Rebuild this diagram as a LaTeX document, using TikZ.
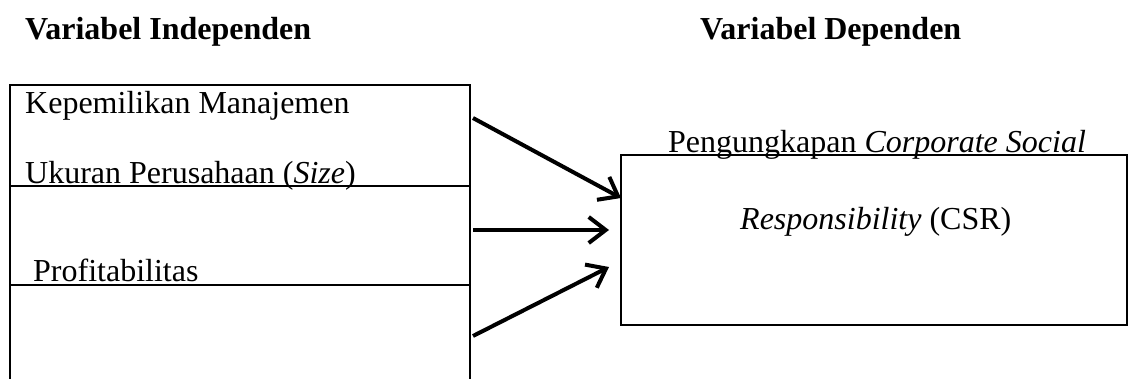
\documentclass[tikz,border=0pt]{standalone}
\usepackage{fontspec}
\setmainfont{Liberation Serif}
\usetikzlibrary{arrows.meta}

\begin{document}
\begin{tikzpicture}[x=1pt,y=-1pt,
  every node/.style={font=\fontsize{32}{38}\selectfont,inner sep=0pt},
  varbox/.style={draw,line width=1.3pt,rectangle},
  label/.style={anchor=base west},
  head/.style={anchor=base west,font=\fontsize{32}{38}\selectfont\bfseries},
  link/.style={line width=4pt,-{Straight Barb[length=17pt,width=26pt]}}]
\useasboundingbox (0,0) rectangle (1133,378);

% headings
\node[head] (indep) at (25,39) {Variabel Independen};
\node[head] (dep) at (700,39) {Variabel Dependen};

% independent variables
\node[varbox,minimum width=460pt,minimum height=101pt] (kep) at (240,135.5) {};
\node[varbox,minimum width=460pt,minimum height=99pt] (size) at (240,235.5) {};
\node[varbox,minimum width=460pt,minimum height=110pt] (prof) at (240,340) {};
\node[label] (kepText) at (25,113) {Kepemilikan Manajemen};
\node[label] (sizeText) at (25,183) {Ukuran Perusahaan (\textit{Size})};
\node[label] (profText) at (33,281) {Profitabilitas};

% dependent variable
\node[varbox,minimum width=506pt,minimum height=170pt] (csr) at (874,240) {};
\node[label] (csrTop) at (668,152) {Pengungkapan \textit{Corporate Social}};
\node[label] (csrBot) at (740,229) {\textit{Responsibility} (CSR)};

% arrows
\coordinate (s1) at (473,118);
\coordinate (s2) at (473,230);
\coordinate (s3) at (473,336);
\coordinate (e1) at (621,198);
\coordinate (e2) at (609,230);
\coordinate (e3) at (609,267);
\draw[link] (s1) -- (e1);
\draw[link] (s2) -- (e2);
\draw[link] (s3) -- (e3);

\end{tikzpicture}
\end{document}
